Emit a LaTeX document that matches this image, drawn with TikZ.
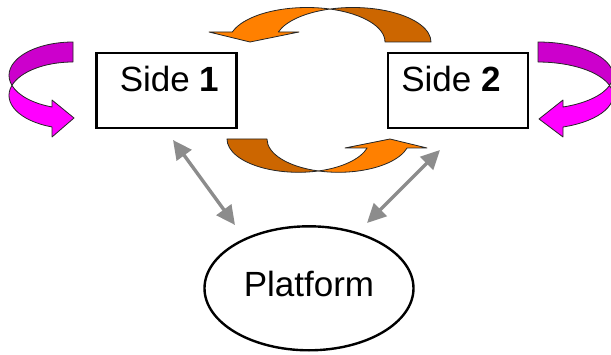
\documentclass[tikz,border=0pt]{standalone}
\usepackage{fontspec}
\setmainfont{Liberation Sans}
\usetikzlibrary{arrows.meta,shapes.geometric}

\definecolor{orangeA}{RGB}{255,128,0}
\definecolor{orangeB}{RGB}{204,102,0}
\definecolor{magA}{RGB}{255,0,255}
\definecolor{magB}{RGB}{204,0,204}
\definecolor{linkgray}{RGB}{140,140,140}

\tikzset{
  sidebox/.style={draw=black, line width=2.7pt, minimum width=140pt, minimum height=75pt, inner sep=0pt},
  sidetext/.style={font=\fontsize{35}{42}\selectfont, anchor=base, inner sep=0pt},
  platformnode/.style={draw=black, line width=2.4pt, ellipse, minimum width=209pt, minimum height=124pt,
    inner sep=0pt, font=\fontsize{35}{42}\selectfont, text height=25pt, text depth=8.2pt},
  link/.style={draw=linkgray, line width=3.4pt,
    {Triangle[length=19pt,width=18pt]}-{Triangle[length=19pt,width=18pt]}},
  ribbon/.style={draw=black!85, line width=0.8pt, line join=round}
}

\begin{document}
\begin{tikzpicture}[x=1pt,y=1pt]
\useasboundingbox (0,0) rectangle (611,354);

% the two sides and the platform
\node[sidebox] (s1) at (166.5,263.5) {};
\node[sidetext] (s1label) at (169.5,262.5) {Side \textbf{1}};
\node[sidebox] (s2) at (458,263.5) {};
\node[sidetext] (s2label) at (451,262.5) {Side \textbf{2}};
\node[platformnode] (plat) at (309,65.7) {Platform};

% links between the sides and the platform
\coordinate (l1a) at (173,214);
\coordinate (l1b) at (235,129);
\coordinate (l2a) at (440,204);
\coordinate (l2b) at (367,131);
\draw[link] (l1a) -- (l1b);
\draw[link] (l2a) -- (l2b);

% upper curved arrow: from side 2 over to side 1
\path[ribbon, fill=orangeB]
  (431,312) arc[start angle=0, end angle=107.15, x radius=78pt, y radius=34.5pt]
  arc[start angle=72.85, end angle=0, x radius=78pt, y radius=34.5pt] -- cycle;
\path[ribbon, fill=orangeA]
  (278.35,322) arc[start angle=163.15, end angle=107.15, x radius=78pt, y radius=34.5pt]
  arc[start angle=72.85, end angle=163.15, x radius=78pt, y radius=34.5pt]
  -- (209,322) -- (250,312) -- (299,322) -- cycle;

% lower curved arrow: from side 1 under to side 2
\path[ribbon, fill=orangeB]
  (227,215) arc[start angle=180, end angle=286.26, x radius=71.4pt, y radius=33.3pt]
  arc[start angle=253.74, end angle=180, x radius=71.4pt, y radius=33.3pt] -- cycle;
\path[ribbon, fill=orangeA]
  (367.14,206) arc[start angle=344.32, end angle=286.26, x radius=71.4pt, y radius=33.3pt]
  arc[start angle=253.74, end angle=344.32, x radius=71.4pt, y radius=33.3pt]
  -- (427,206) -- (390,215) -- (345,206) -- cycle;

% left self loop on side 1
\path[ribbon, fill=magB]
  (73,312) arc[start angle=90, end angle=197.42, x radius=64pt, y radius=33.4pt]
  arc[start angle=162.58, end angle=90, x radius=64pt, y radius=33.4pt] -- cycle;
\path[ribbon, fill=magA]
  (52.0,247.05) arc[start angle=250.85, end angle=197.42, x radius=64pt, y radius=33.4pt]
  arc[start angle=162.58, end angle=250.85, x radius=64pt, y radius=33.4pt]
  -- (52,217) -- (74,236) -- (52,254) -- cycle;

% right self loop on side 2
\path[ribbon, fill=magB]
  (538,312) arc[start angle=90, end angle=-17.42, x radius=75pt, y radius=33.45pt]
  arc[start angle=17.42, end angle=90, x radius=75pt, y radius=33.45pt] -- cycle;
\path[ribbon, fill=magA]
  (563,247.0) arc[start angle=-70.53, end angle=-17.42, x radius=75pt, y radius=33.45pt]
  arc[start angle=17.42, end angle=-70.53, x radius=75pt, y radius=33.45pt]
  -- (563,217) -- (539,235) -- (563,254) -- cycle;
\end{tikzpicture}
\end{document}
